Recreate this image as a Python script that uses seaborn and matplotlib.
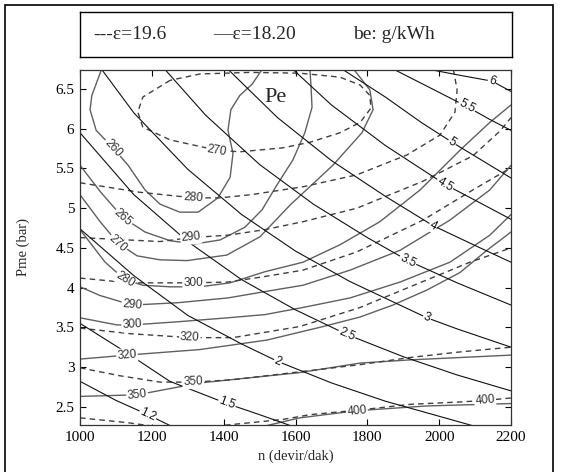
import matplotlib
matplotlib.use("Agg")
import matplotlib.pyplot as plt
import numpy as np
import pandas as pd
import seaborn as sns
from matplotlib.patches import Rectangle

sns.set_theme(style="white")
plt.rcParams["font.family"] = ["Liberation Serif", "DejaVu Serif"]

# axis ranges and ticks
n_ticks = [1000, 1200, 1400, 1600, 1800, 2000, 2200]
pme_ticks = [2.5, 3, 3.5, 4, 4.5, 5, 5.5, 6, 6.5]
pme_tick_labels = ["2.5", "3", "3.5", "4", "4.5", "5", "5.5", "6", "6.5"]
n_range = (1000, 2200)
pme_range = (2.27, 6.74)

# ---- effective power Pe (kW) lines ----
pe12_n = [1000, 1100, 1189, 1270]
pe12_p = [2.82, 2.58, 2.40, 2.22]
pe15_n = [1000, 1130, 1250, 1409, 1500, 1600]
pe15_p = [3.55, 3.18, 2.82, 2.54, 2.40, 2.24]
pe20_n = [1000, 1150, 1300, 1450, 1551, 1700, 1850, 2000, 2110]
pe20_p = [4.74, 4.15, 3.65, 3.29, 3.07, 2.80, 2.57, 2.38, 2.24]
pe25_n = [1000, 1150, 1300, 1450, 1600, 1743, 1900, 2050, 2200]
pe25_p = [5.95, 5.17, 4.58, 4.10, 3.72, 3.41, 3.13, 2.90, 2.70]
pe30_n = [1055, 1150, 1300, 1450, 1600, 1750, 1900, 1966, 2050, 2200]
pe30_p = [6.78, 6.20, 5.49, 4.92, 4.46, 4.08, 3.76, 3.62, 3.48, 3.25]
pe35_n = [1230, 1350, 1500, 1650, 1800, 1913, 2050, 2200]
pe35_p = [6.78, 6.17, 5.55, 5.05, 4.63, 4.34, 4.06, 3.78]
pe40_n = [1405, 1550, 1700, 1850, 1983, 2100, 2200]
pe40_p = [6.78, 6.14, 5.60, 5.15, 4.78, 4.53, 4.32]
pe45_n = [1585, 1700, 1850, 2016, 2100, 2200]
pe45_p = [6.78, 6.30, 5.79, 5.30, 5.10, 4.86]
pe50_n = [1720, 1850, 1950, 2036, 2120, 2200]
pe50_p = [6.78, 6.40, 6.08, 5.83, 5.60, 5.38]
pe55_n = [1860, 1960, 2077, 2140, 2200]
pe55_p = [6.78, 6.55, 6.28, 6.12, 5.98]
pe60_n = [1935, 2050, 2147, 2200]
pe60_p = [6.78, 6.68, 6.60, 6.47]

# ---- specific fuel consumption be (g/kWh), compression ratio 18.20 ----
s260_n = [1061, 1033, 1028, 1045, 1092, 1134, 1181, 1223, 1278, 1329, 1384,
          1418, 1426, 1412, 1420, 1445, 1479, 1509]
s260_p = [6.76, 6.42, 6.24, 5.98, 5.76, 5.54, 5.23, 5.05, 4.95, 4.95, 5.13,
          5.39, 5.69, 5.98, 6.24, 6.42, 6.56, 6.76]
s265_n = [1000, 1058, 1120, 1181, 1251, 1320, 1390, 1459, 1507, 1548, 1593,
          1626, 1646, 1643, 1640]
s265_p = [5.54, 5.20, 4.88, 4.70, 4.59, 4.55, 4.60, 4.76, 4.98, 5.29, 5.61,
          5.95, 6.27, 6.55, 6.76]
s270_n = [1000, 1056, 1106, 1159, 1223, 1298, 1409, 1501, 1585, 1704, 1785,
          1816, 1807, 1760]
s270_p = [5.17, 4.83, 4.56, 4.40, 4.35, 4.34, 4.41, 4.64, 5.04, 5.54, 5.95,
          6.24, 6.49, 6.76]
s280_n = [1000, 1070, 1125, 1175, 1251, 1334, 1418, 1515, 1621, 1724, 1835,
          1947, 2058, 2141, 2200]
s280_p = [4.73, 4.32, 4.10, 4.03, 4.01, 4.01, 4.06, 4.20, 4.32, 4.54, 4.83,
          5.23, 5.73, 6.08, 6.30]
s290_n = [1000, 1056, 1145, 1273, 1412, 1515, 1621, 1752, 1891, 2030, 2141, 2200]
s290_p = [4.01, 3.90, 3.78, 3.81, 3.87, 3.95, 4.03, 4.22, 4.47, 4.85, 5.23, 5.54]
s300_n = [1000, 1103, 1145, 1273, 1412, 1515, 1621, 1752, 1891, 2030, 2141, 2200]
s300_p = [3.62, 3.53, 3.53, 3.57, 3.62, 3.66, 3.75, 3.87, 4.07, 4.32, 4.66, 4.92]
s320_n = [1000, 1131, 1334, 1521, 1677, 1780, 1871, 1966, 2058, 2133, 2200]
s320_p = [3.10, 3.15, 3.22, 3.34, 3.51, 3.63, 3.78, 3.97, 4.19, 4.47, 4.70]
s350_n = [1000, 1159, 1334, 1612, 1780, 1919, 2200]
s350_p = [2.63, 2.65, 2.80, 2.93, 3.05, 3.09, 3.15]
s400_n = [1480, 1612, 1771, 1966, 2200]
s400_p = [2.22, 2.36, 2.45, 2.51, 2.54]

# ---- specific fuel consumption be (g/kWh), compression ratio 19.6 ----
d270_n = [1251, 1175, 1161, 1175, 1251, 1381, 1445, 1565, 1640, 1724, 1780,
          1810, 1807, 1780, 1724, 1612, 1473, 1334, 1251]
d270_p = [6.61, 6.40, 6.21, 6.02, 5.86, 5.73, 5.71, 5.76, 5.83, 5.95, 6.08,
          6.26, 6.42, 6.55, 6.65, 6.70, 6.71, 6.69, 6.61]
d280_n = [1000, 1167, 1317, 1390, 1476, 1621, 1771, 1910, 2002, 2044, 2050, 2039]
d280_p = [5.32, 5.20, 5.13, 5.13, 5.17, 5.27, 5.42, 5.67, 5.92, 6.21, 6.49, 6.76]
d290_n = [1000, 1223, 1309, 1412, 1515, 1621, 1771, 1955, 2094, 2169, 2200]
d290_p = [4.63, 4.58, 4.63, 4.66, 4.73, 4.83, 5.00, 5.34, 5.66, 5.97, 6.14]
d300_n = [1000, 1139, 1315, 1412, 1515, 1621, 1771, 1955, 2094, 2200]
d300_p = [4.12, 4.06, 4.06, 4.07, 4.14, 4.22, 4.45, 4.85, 5.23, 5.51]
d320_n = [1000, 1139, 1306, 1426, 1612, 1780, 1919, 2086, 2200]
d320_p = [3.49, 3.42, 3.37, 3.37, 3.51, 3.75, 4.01, 4.32, 4.50]
d350_n = [1000, 1111, 1223, 1315, 1426, 1612, 1780, 1919, 2058, 2200]
d350_p = [2.99, 2.89, 2.81, 2.81, 2.84, 2.94, 3.03, 3.12, 3.19, 3.25]
d400_n = [1000, 1131, 1278, 1454, 1565, 1640, 1780, 1919, 2058, 2128, 2200]
d400_p = [2.36, 2.30, 2.21, 2.29, 2.34, 2.40, 2.46, 2.53, 2.56, 2.58, 2.61]

# (label text, n values, pme values, vertex carrying the inline label)
pe_curves = [
    ("1.2", pe12_n, pe12_p, 2), ("1.5", pe15_n, pe15_p, 3),
    ("2", pe20_n, pe20_p, 4), ("2.5", pe25_n, pe25_p, 5),
    ("3", pe30_n, pe30_p, 7), ("3.5", pe35_n, pe35_p, 5),
    ("4", pe40_n, pe40_p, 4), ("4.5", pe45_n, pe45_p, 3),
    ("5", pe50_n, pe50_p, 3), ("5.5", pe55_n, pe55_p, 2),
    ("6", pe60_n, pe60_p, 2),
]
solid_curves = [
    ("260", s260_n, s260_p, 4), ("265", s265_n, s265_p, 2),
    ("270", s270_n, s270_p, 2), ("280", s280_n, s280_p, 2),
    ("290", s290_n, s290_p, 2), ("300", s300_n, s300_p, 2),
    ("320", s320_n, s320_p, 1), ("350", s350_n, s350_p, 1),
    ("400", s400_n, s400_p, 2),
]
dashed_curves = [
    ("270", d270_n, d270_p, 5), ("280", d280_n, d280_p, 2),
    ("290", d290_n, d290_p, 2), ("300", d300_n, d300_p, 2),
    ("320", d320_n, d320_p, 2), ("350", d350_n, d350_p, 3),
    ("400", d400_n, d400_p, 9),
]


def long_table(curves, family):
    rows = []
    for i, (lab, ns, ps, _) in enumerate(curves):
        for k, (n, p) in enumerate(zip(ns, ps)):
            rows.append({"n": n, "pme": p, "curve": f"{family}{i}", "order": k})
    return pd.DataFrame(rows)


df_pe = long_table(pe_curves, "pe")
df_s = long_table(solid_curves, "s")
df_d = long_table(dashed_curves, "d")

W, H = 561, 472
fig = plt.figure(figsize=(W / 100, H / 100), dpi=100)
fig.patch.set_facecolor("white")

ax = fig.add_axes([80 / W, (H - 425) / H, 431 / W, 355 / H])
ax.set_xlim(*n_range)
ax.set_ylim(*pme_range)

sns.lineplot(data=df_s, x="n", y="pme", units="curve", estimator=None,
             sort=False, color="#606060", lw=1.0, ax=ax)
sns.lineplot(data=df_d, x="n", y="pme", units="curve", estimator=None,
             sort=False, color="#404040", lw=1.0, ax=ax,
             linestyle=(0, (4, 3)))
sns.lineplot(data=df_pe, x="n", y="pme", units="curve", estimator=None,
             sort=False, color="#111111", lw=0.8, ax=ax)

ax.set_xlim(*n_range)
ax.set_ylim(*pme_range)


def inline_label(xs, ys, k, text, color):
    pts = ax.transData.transform(np.column_stack([xs, ys]))
    a = pts[max(k - 1, 0)]
    b = pts[min(k + 1, len(xs) - 1)]
    ang = np.degrees(np.arctan2(b[1] - a[1], b[0] - a[0]))
    if ang > 90:
        ang -= 180
    elif ang < -90:
        ang += 180
    ax.text(xs[k], ys[k], text, rotation=ang, rotation_mode="anchor",
            ha="center", va="center", fontsize=8.5, family="Liberation Sans",
            color=color, zorder=6,
            bbox=dict(boxstyle="square,pad=0.08", fc="white", ec="none"))


for lab, ns, ps, k in solid_curves:
    inline_label(ns, ps, k, lab, "#303030")
for lab, ns, ps, k in dashed_curves:
    inline_label(ns, ps, k, lab, "#303030")
for lab, ns, ps, k in pe_curves:
    inline_label(ns, ps, k, lab, "#111111")

ax.text(1543, 6.40, "Pe", fontsize=16, ha="center", va="center", zorder=6)

ax.set_xticks(n_ticks)
ax.set_xticklabels([str(t) for t in n_ticks])
ax.set_yticks(pme_ticks)
ax.set_yticklabels(pme_tick_labels)
ax.tick_params(direction="in", length=4, width=0.8, top=True, right=True,
               bottom=True, left=True, labelsize=11, colors="black", pad=4)
for sp in ax.spines.values():
    sp.set_color("#333333")
    sp.set_linewidth(0.9)
ax.set_xlabel("n (devir/dak)", fontsize=10.5, labelpad=4)
ax.set_ylabel("Pme (bar)", fontsize=10.5, labelpad=18)
ax.grid(False)

# header box with the line key and unit
lax = fig.add_axes([80 / W, (H - 57) / H, 432 / W, 45 / H])
lax.set_xticks([])
lax.set_yticks([])
for sp in lax.spines.values():
    sp.set_color("black")
    sp.set_linewidth(1.0)
lax.text(13 / 432, 0.5, "---ε=19.6", fontsize=14, va="center", ha="left",
         transform=lax.transAxes)
lax.text(133 / 432, 0.5, "—ε=18.20", fontsize=14, va="center", ha="left",
         transform=lax.transAxes)
lax.text(273 / 432, 0.5, "be: g/kWh", fontsize=14, va="center", ha="left",
         transform=lax.transAxes)

# outer frame of the figure
fig.patches.append(Rectangle((5 / W, -0.02), 548 / W, (H - 5) / H + 0.02,
                             transform=fig.transFigure, fill=False,
                             ec="black", lw=1.2))

fig.savefig("out.png", dpi=100)
